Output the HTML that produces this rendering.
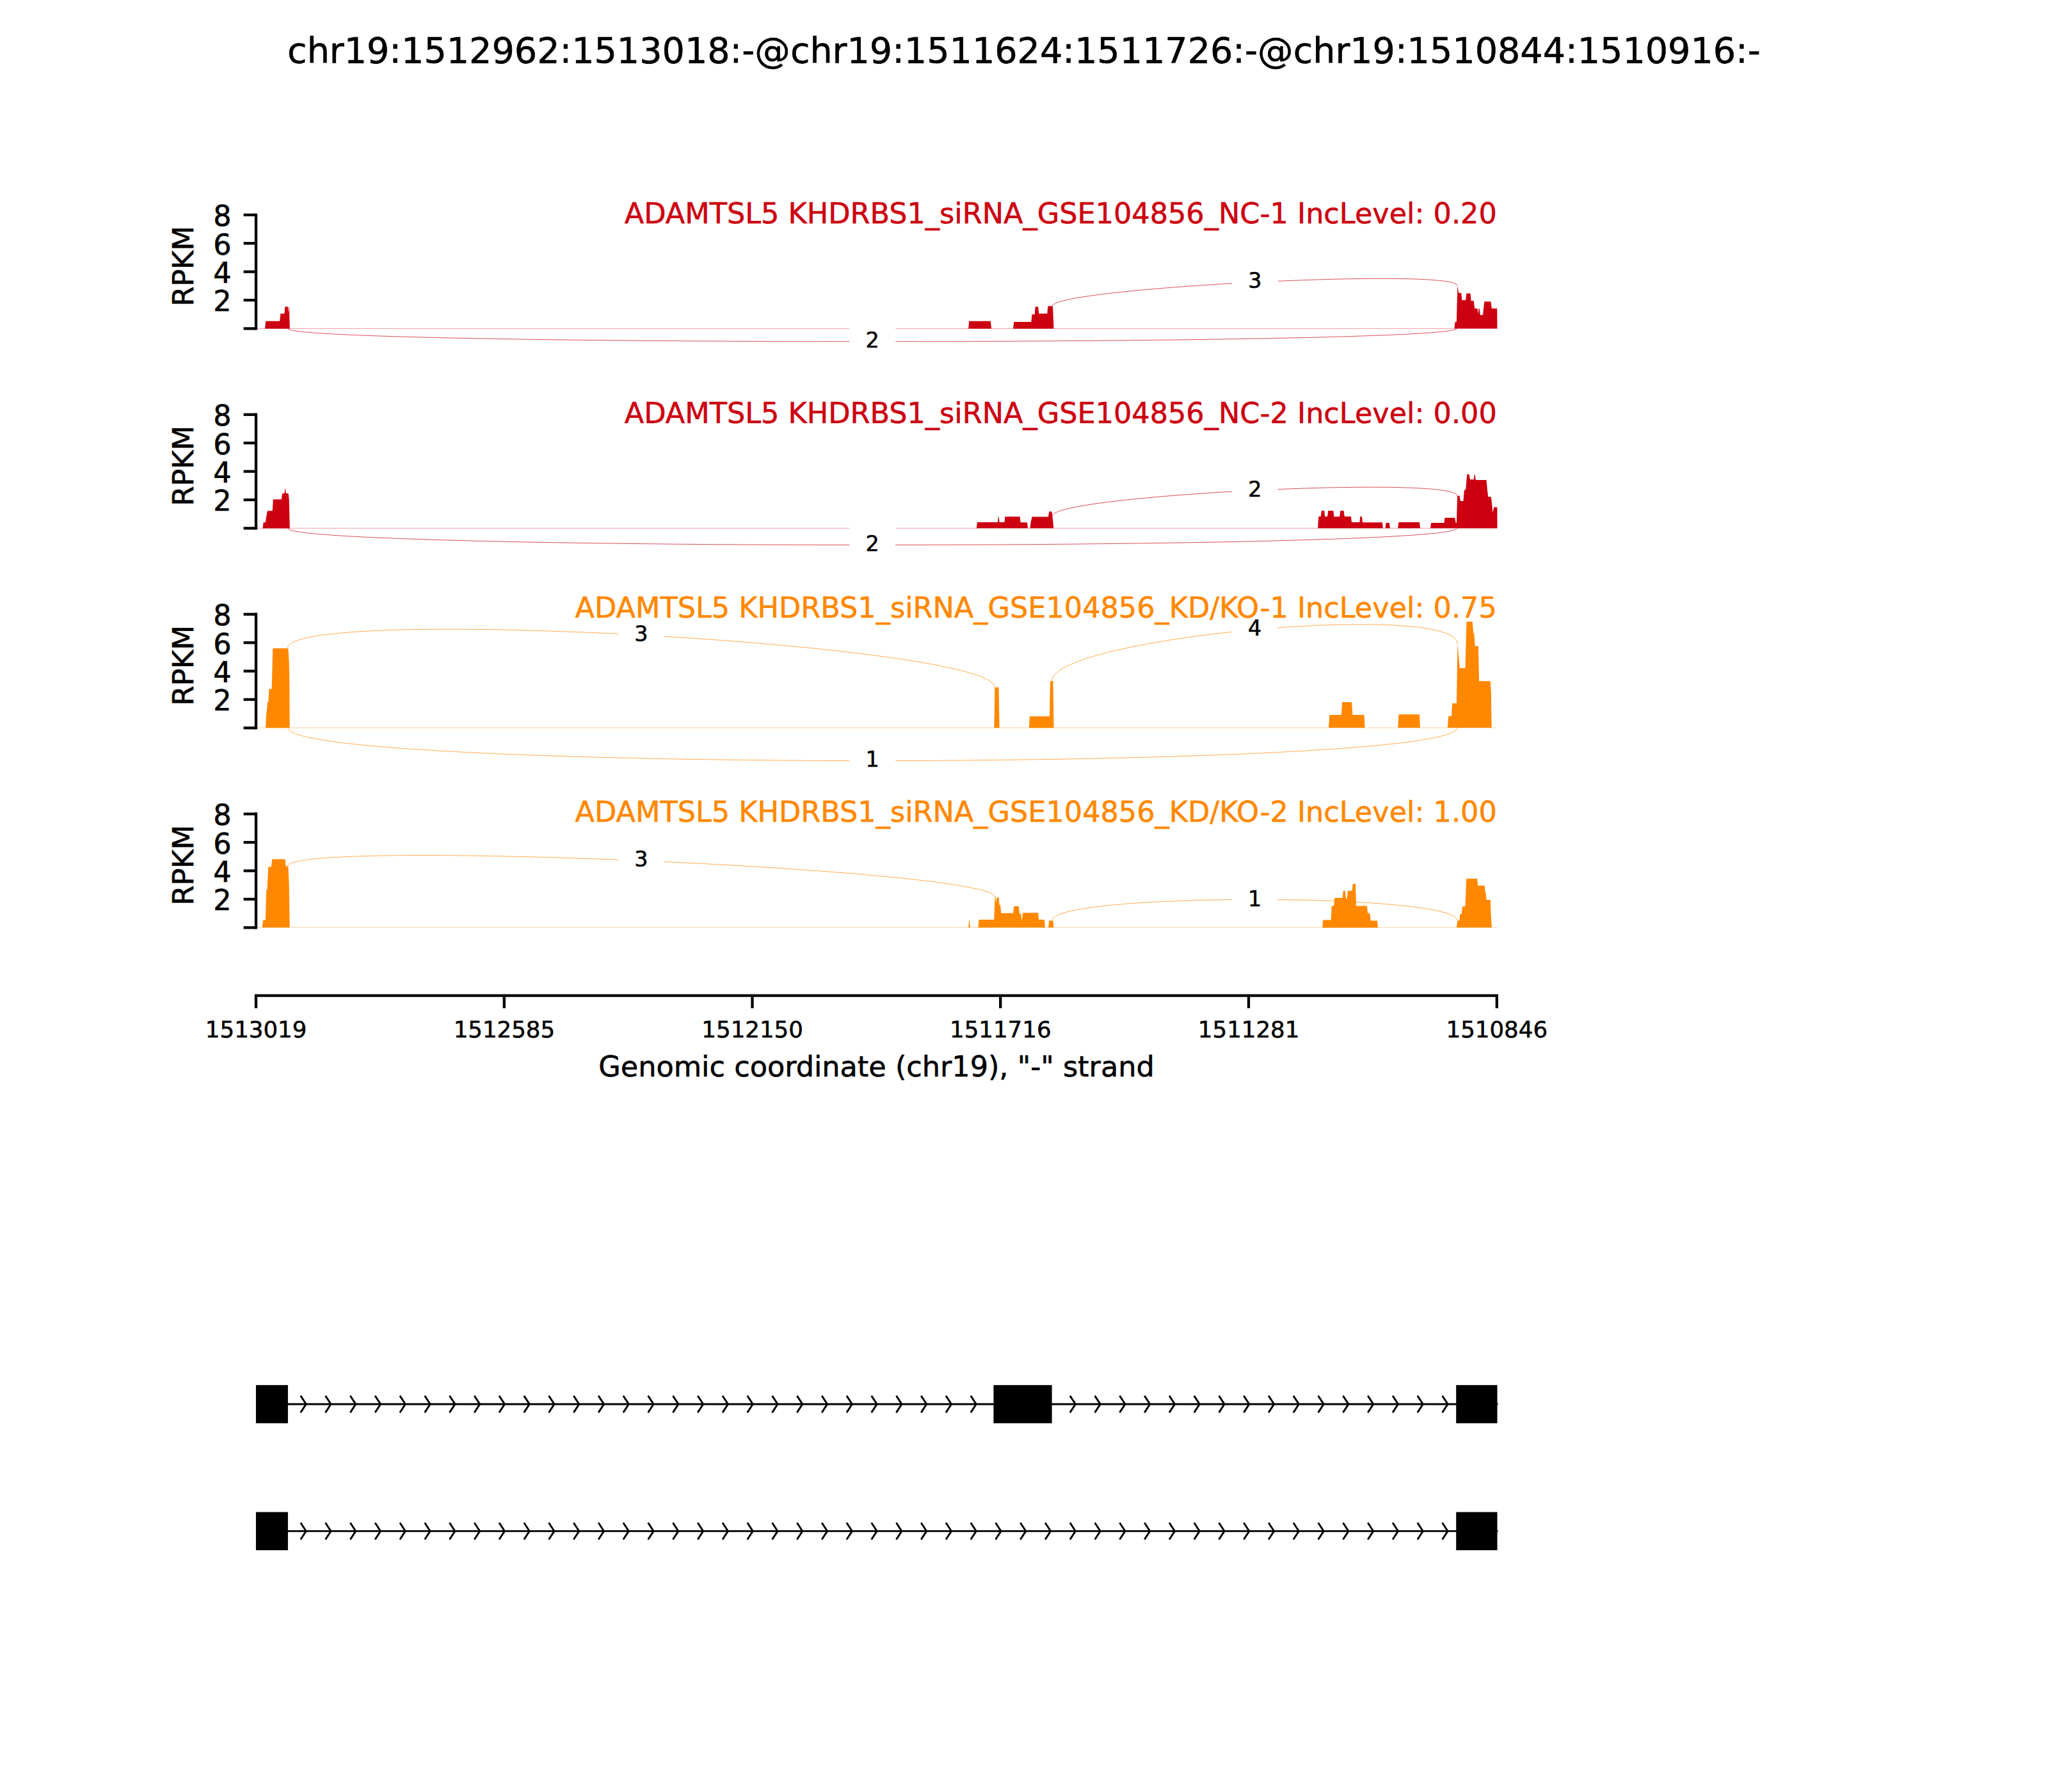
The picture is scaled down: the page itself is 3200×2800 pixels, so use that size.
<!DOCTYPE html>
<html lang="en"><head><meta charset="utf-8"><title>Sashimi plot</title>
<style>html,body{margin:0;padding:0;background:#fff}body{width:3200px;height:2800px;overflow:hidden}svg{display:block}text{font-family:"DejaVu Sans", "Liberation Sans", sans-serif;stroke-width:0.6px;stroke-linejoin:round}.t8{font-size:44.55px}.t6{font-size:33.33px}.tx{font-size:35.6px}.tt{font-size:55.56px}</style></head><body>
<svg width="3200" height="2800" viewBox="0 0 3200 2800">
<rect width="3200" height="2800" fill="#fff"/>
<text class="tt" stroke="#000" x="1600" y="98.4" text-anchor="middle">chr19:1512962:1513018:-@chr19:1511624:1511726:-@chr19:1510844:1510916:-</text>
<g>
<path d="M1644.5,478.3 C1644.5,449.7 2277.3,417.9 2277.3,446.5" fill="none" stroke="#CC0011" stroke-width="0.7"/>
<path d="M449.8,513.4 C449.8,540.6 2276.5,540.4 2276.5,513.2" fill="none" stroke="#CC0011" stroke-width="0.7"/>
<line x1="402" y1="513.4" x2="2339.5" y2="513.4" stroke="#CC0011" stroke-width="0.7" stroke-opacity="0.55"/>
<polygon points="414.0,513.4 415.2,501.7 437.2,501.7 438.3,489.9 444.4,489.9 445.4,479.3 449.8,479.3 450.6,489.0 451.4,479.3 451.9,479.3 452.8,513.4" fill="#CC0011"/>
<polygon points="1513.2,513.5 1514.2,501.8 1547.9,501.8 1549.0,513.5" fill="#CC0011"/>
<polygon points="1583.0,513.5 1584.3,503.0 1611.3,503.0 1612.5,491.3 1616.7,491.3 1617.7,479.3 1622.1,479.3 1623.3,490.0 1636.3,490.0 1637.4,478.3 1645.0,478.3 1646.5,513.5" fill="#CC0011"/>
<polygon points="2272.4,513.2 2273.6,503.0 2275.9,503.0 2277.3,446.5 2279.1,457.7 2283.2,457.7 2284.3,469.0 2290.2,469.0 2291.3,458.6 2297.6,458.6 2298.6,470.1 2302.7,470.1 2304.1,481.9 2308.4,481.9 2309.8,491.0 2310.3,481.9 2311.5,481.9 2313.0,492.2 2317.0,492.2 2319.3,471.3 2329.5,471.3 2330.8,481.9 2339.2,481.9 2339.4,513.2" fill="#CC0011"/>
<rect x="1924.9" y="399.1" width="72" height="78" fill="#fff"/>
<text class="t6" stroke="#000" x="1960.9" y="450.3" text-anchor="middle">3</text>
<rect x="1327.2" y="491.9" width="72" height="78" fill="#fff"/>
<text class="t6" stroke="#000" x="1363.2" y="543.1" text-anchor="middle">2</text>
<path d="M400,333.7 V515.5" stroke="#000" stroke-width="4.3" fill="none"/>
<line x1="380.6" x2="400" y1="335.8" y2="335.8" stroke="#000" stroke-width="4.3"/>
<text class="t8" stroke="#000" x="361.5" y="353.2" text-anchor="end">8</text>
<line x1="380.6" x2="400" y1="380.2" y2="380.2" stroke="#000" stroke-width="4.3"/>
<text class="t8" stroke="#000" x="361.5" y="397.6" text-anchor="end">6</text>
<line x1="380.6" x2="400" y1="424.6" y2="424.6" stroke="#000" stroke-width="4.3"/>
<text class="t8" stroke="#000" x="361.5" y="442.0" text-anchor="end">4</text>
<line x1="380.6" x2="400" y1="469.0" y2="469.0" stroke="#000" stroke-width="4.3"/>
<text class="t8" stroke="#000" x="361.5" y="486.4" text-anchor="end">2</text>
<line x1="380.6" x2="400" y1="513.4" y2="513.4" stroke="#000" stroke-width="4.3"/>
<text class="t8" stroke="#000" transform="translate(301.7,415.8) rotate(-90)" text-anchor="middle">RPKM</text>
<text class="t8" x="2338.8" y="348.6" text-anchor="end" fill="#CC0011" stroke="#CC0011">ADAMTSL5 KHDRBS1_siRNA_GSE104856_NC-1 IncLevel: 0.20</text>
</g>
<g>
<path d="M1644.6,806.0 C1644.6,773.7 2277.1,742.5 2277.1,774.8" fill="none" stroke="#CC0011" stroke-width="0.7"/>
<path d="M449.8,825.3 C449.8,860.3 2276.5,860.3 2276.5,825.3" fill="none" stroke="#CC0011" stroke-width="0.7"/>
<line x1="402" y1="825.3" x2="2339.5" y2="825.3" stroke="#CC0011" stroke-width="0.7" stroke-opacity="0.55"/>
<polygon points="410.6,825.4 411.5,816.2 414.8,816.2 416.2,807.0 417.9,798.3 425.7,798.3 426.8,780.2 439.9,780.2 441.1,771.1 444.4,771.1 445.6,762.2 446.9,771.0 450.5,771.1 451.7,780.2 452.8,825.4" fill="#CC0011"/>
<polygon points="1525.9,825.3 1526.8,816.0 1558.9,816.0 1559.9,807.0 1560.6,807.0 1561.5,816.0 1569.4,816.0 1570.5,807.2 1593.6,807.2 1594.7,816.3 1605.0,816.3 1606.1,825.3" fill="#CC0011"/>
<polygon points="1609.4,825.3 1610.6,816.3 1612.5,807.5 1638.0,807.5 1639.3,799.3 1643.4,799.3 1644.6,808.5 1645.5,816.3 1646.3,825.3" fill="#CC0011"/>
<polygon points="2059.1,825.3 2060.3,807.1 2063.8,807.1 2064.8,798.1 2069.1,798.1 2070.1,807.1 2074.2,807.1 2075.3,798.1 2083.4,798.1 2084.4,807.3 2093.1,807.3 2094.3,798.1 2099.6,798.1 2100.8,807.1 2110.9,807.1 2112.0,816.1 2124.4,816.1 2125.4,807.1 2127.9,807.1 2129.1,816.2 2159.9,816.2 2160.9,825.3" fill="#CC0011"/>
<polygon points="2164.6,825.3 2165.6,817.1 2170.9,817.1 2171.9,825.3" fill="#CC0011"/>
<polygon points="2184.2,825.3 2185.4,816.0 2218.0,816.0 2219.0,825.3" fill="#CC0011"/>
<polygon points="2235.0,825.3 2236.2,817.0 2256.4,817.0 2257.6,809.0 2273.4,809.0 2274.6,816.7 2275.9,817.0 2277.1,774.8 2280.4,774.4 2281.9,783.1 2286.5,783.1 2287.9,765.5 2290.2,765.2 2292.2,741.2 2295.6,741.2 2297.0,749.2 2302.7,749.2 2303.9,741.2 2304.7,741.2 2305.8,749.9 2322.5,750.0 2324.0,766.5 2325.3,776.3 2329.7,776.3 2331.1,786.4 2332.3,800.5 2334.4,792.6 2339.4,792.6 2339.5,825.3" fill="#CC0011"/>
<rect x="1924.8" y="724.4" width="72" height="78" fill="#fff"/>
<text class="t6" stroke="#000" x="1960.8" y="775.6" text-anchor="middle">2</text>
<rect x="1327.2" y="809.8" width="72" height="78" fill="#fff"/>
<text class="t6" stroke="#000" x="1363.2" y="861.0" text-anchor="middle">2</text>
<path d="M400,645.6 V827.4" stroke="#000" stroke-width="4.3" fill="none"/>
<line x1="380.6" x2="400" y1="647.8" y2="647.8" stroke="#000" stroke-width="4.3"/>
<text class="t8" stroke="#000" x="361.5" y="665.2" text-anchor="end">8</text>
<line x1="380.6" x2="400" y1="692.2" y2="692.2" stroke="#000" stroke-width="4.3"/>
<text class="t8" stroke="#000" x="361.5" y="709.6" text-anchor="end">6</text>
<line x1="380.6" x2="400" y1="736.6" y2="736.6" stroke="#000" stroke-width="4.3"/>
<text class="t8" stroke="#000" x="361.5" y="754.0" text-anchor="end">4</text>
<line x1="380.6" x2="400" y1="781.0" y2="781.0" stroke="#000" stroke-width="4.3"/>
<text class="t8" stroke="#000" x="361.5" y="798.4" text-anchor="end">2</text>
<line x1="380.6" x2="400" y1="825.4" y2="825.4" stroke="#000" stroke-width="4.3"/>
<text class="t8" stroke="#000" transform="translate(301.7,727.8) rotate(-90)" text-anchor="middle">RPKM</text>
<text class="t8" x="2338.8" y="660.6" text-anchor="end" fill="#CC0011" stroke="#CC0011">ADAMTSL5 KHDRBS1_siRNA_GSE104856_NC-2 IncLevel: 0.00</text>
</g>
<g>
<path d="M449.5,1013.1 C449.5,944.8 1554.0,1005.7 1554.0,1074.0" fill="none" stroke="#FF8800" stroke-width="0.7"/>
<path d="M1643.5,1064.2 C1643.5,995.4 2277.4,937.8 2277.4,1006.6" fill="none" stroke="#FF8800" stroke-width="0.7"/>
<path d="M449.8,1137.2 C449.8,1205.8 2276.5,1205.7 2276.5,1137.1" fill="none" stroke="#FF8800" stroke-width="0.7"/>
<line x1="402" y1="1137.2" x2="2339.5" y2="1137.2" stroke="#FF8800" stroke-width="0.7" stroke-opacity="0.55"/>
<polygon points="415.1,1137.2 416.1,1116.8 418.2,1096.7 419.5,1096.5 420.4,1076.4 424.6,1076.4 426.2,1013.1 450.3,1013.1 451.6,1033.8 452.3,1067.3 452.7,1137.2" fill="#FF8800"/>
<polygon points="1553.4,1137.3 1554.4,1074.1 1560.5,1074.1 1561.6,1137.3" fill="#FF8800"/>
<polygon points="1607.8,1137.3 1608.9,1119.3 1640.0,1119.3 1640.9,1064.2 1645.5,1064.2 1646.5,1137.3" fill="#FF8800"/>
<polygon points="2076.0,1137.1 2077.4,1117.0 2095.8,1117.0 2097.1,1096.9 2112.1,1096.9 2113.4,1117.0 2131.5,1117.0 2132.6,1137.1" fill="#FF8800"/>
<polygon points="2184.2,1137.1 2185.5,1116.3 2217.9,1116.3 2219.0,1137.1" fill="#FF8800"/>
<polygon points="2261.8,1137.1 2263.2,1119.1 2267.9,1119.1 2269.3,1099.0 2275.9,1099.0 2277.4,1006.6 2280.9,1044.1 2289.4,1044.1 2291.5,971.2 2300.7,971.2 2302.1,989.3 2303.3,989.3 2304.7,1009.4 2309.9,1009.4 2311.1,1064.2 2328.8,1064.2 2329.8,1081.6 2330.7,1137.1" fill="#FF8800"/>
<rect x="965.8" y="950.5" width="72" height="78" fill="#fff"/>
<text class="t6" stroke="#000" x="1001.8" y="1001.7" text-anchor="middle">3</text>
<rect x="1924.5" y="942.0" width="72" height="78" fill="#fff"/>
<text class="t6" stroke="#000" x="1960.5" y="993.2" text-anchor="middle">4</text>
<rect x="1327.2" y="1146.8" width="72" height="78" fill="#fff"/>
<text class="t6" stroke="#000" x="1363.2" y="1198.0" text-anchor="middle">1</text>
<path d="M400,957.6 V1139.4" stroke="#000" stroke-width="4.3" fill="none"/>
<line x1="380.6" x2="400" y1="959.8" y2="959.8" stroke="#000" stroke-width="4.3"/>
<text class="t8" stroke="#000" x="361.5" y="977.2" text-anchor="end">8</text>
<line x1="380.6" x2="400" y1="1004.2" y2="1004.2" stroke="#000" stroke-width="4.3"/>
<text class="t8" stroke="#000" x="361.5" y="1021.6" text-anchor="end">6</text>
<line x1="380.6" x2="400" y1="1048.6" y2="1048.6" stroke="#000" stroke-width="4.3"/>
<text class="t8" stroke="#000" x="361.5" y="1066.0" text-anchor="end">4</text>
<line x1="380.6" x2="400" y1="1093.0" y2="1093.0" stroke="#000" stroke-width="4.3"/>
<text class="t8" stroke="#000" x="361.5" y="1110.4" text-anchor="end">2</text>
<line x1="380.6" x2="400" y1="1137.4" y2="1137.4" stroke="#000" stroke-width="4.3"/>
<text class="t8" stroke="#000" transform="translate(301.7,1039.8) rotate(-90)" text-anchor="middle">RPKM</text>
<text class="t8" x="2338.8" y="965.4" text-anchor="end" fill="#FF8800" stroke="#FF8800">ADAMTSL5 KHDRBS1_siRNA_GSE104856_KD/KO-1 IncLevel: 0.75</text>
</g>
<g>
<path d="M449.3,1353.8 C449.3,1310.1 1554.6,1357.8 1554.6,1401.5" fill="none" stroke="#FF8800" stroke-width="0.7"/>
<path d="M1643.8,1438.4 C1643.8,1394.4 2277.3,1394.5 2277.3,1438.5" fill="none" stroke="#FF8800" stroke-width="0.7"/>
<line x1="402" y1="1449.2" x2="2339.5" y2="1449.2" stroke="#FF8800" stroke-width="0.7" stroke-opacity="0.55"/>
<polygon points="409.7,1449.2 411.1,1437.5 414.8,1437.5 416.2,1390.0 417.5,1389.7 419.2,1354.5 423.8,1354.5 425.3,1342.4 445.6,1342.4 446.7,1353.8 450.3,1353.8 451.6,1380.6 452.7,1449.2" fill="#FF8800"/>
<polygon points="1513.1,1449.2 1514.4,1437.4 1515.0,1437.4 1515.9,1449.2" fill="#FF8800"/>
<polygon points="1528.4,1449.2 1529.6,1437.1 1553.3,1437.1 1554.6,1401.5 1555.5,1401.5 1556.5,1410.3 1557.5,1402.2 1560.6,1402.2 1561.6,1414.3 1563.1,1414.5 1564.3,1426.8 1583.0,1426.8 1584.2,1416.0 1591.8,1416.0 1593.0,1427.9 1595.3,1427.9 1596.5,1438.4 1598.3,1426.3 1622.1,1426.3 1623.3,1437.1 1631.9,1437.1 1633.0,1449.2" fill="#FF8800"/>
<polygon points="1638.1,1449.2 1639.2,1438.4 1645.4,1438.4 1646.4,1449.2" fill="#FF8800"/>
<polygon points="2066.2,1449.4 2067.3,1437.4 2079.7,1437.4 2080.8,1415.6 2084.1,1415.4 2085.3,1403.1 2097.7,1403.1 2098.8,1392.0 2101.7,1392.0 2103.1,1403.9 2104.7,1403.9 2105.9,1392.0 2112.7,1391.7 2113.8,1381.0 2118.1,1381.0 2118.9,1415.6 2135.9,1415.6 2137.1,1426.9 2140.4,1426.9 2141.6,1438.4 2152.0,1438.4 2152.9,1449.4" fill="#FF8800"/>
<polygon points="2276.0,1449.2 2277.3,1438.5 2280.4,1438.5 2281.4,1428.0 2283.8,1428.0 2285.1,1416.3 2289.4,1416.3 2291.2,1373.1 2308.3,1373.1 2309.1,1383.7 2319.7,1383.7 2320.8,1394.4 2321.6,1395.9 2322.5,1406.0 2328.8,1406.0 2329.5,1427.0 2330.8,1449.2" fill="#FF8800"/>
<rect x="965.9" y="1303.1" width="72" height="78" fill="#fff"/>
<text class="t6" stroke="#000" x="1001.9" y="1354.3" text-anchor="middle">3</text>
<rect x="1924.6" y="1364.6" width="72" height="78" fill="#fff"/>
<text class="t6" stroke="#000" x="1960.6" y="1415.8" text-anchor="middle">1</text>
<path d="M400,1269.6 V1451.4" stroke="#000" stroke-width="4.3" fill="none"/>
<line x1="380.6" x2="400" y1="1271.8" y2="1271.8" stroke="#000" stroke-width="4.3"/>
<text class="t8" stroke="#000" x="361.5" y="1289.2" text-anchor="end">8</text>
<line x1="380.6" x2="400" y1="1316.2" y2="1316.2" stroke="#000" stroke-width="4.3"/>
<text class="t8" stroke="#000" x="361.5" y="1333.6" text-anchor="end">6</text>
<line x1="380.6" x2="400" y1="1360.6" y2="1360.6" stroke="#000" stroke-width="4.3"/>
<text class="t8" stroke="#000" x="361.5" y="1378.0" text-anchor="end">4</text>
<line x1="380.6" x2="400" y1="1405.0" y2="1405.0" stroke="#000" stroke-width="4.3"/>
<text class="t8" stroke="#000" x="361.5" y="1422.4" text-anchor="end">2</text>
<line x1="380.6" x2="400" y1="1449.4" y2="1449.4" stroke="#000" stroke-width="4.3"/>
<text class="t8" stroke="#000" transform="translate(301.7,1351.8) rotate(-90)" text-anchor="middle">RPKM</text>
<text class="t8" x="2338.8" y="1283.5" text-anchor="end" fill="#FF8800" stroke="#FF8800">ADAMTSL5 KHDRBS1_siRNA_GSE104856_KD/KO-2 IncLevel: 1.00</text>
</g>
<g>
<line x1="397.9" x2="2340.9" y1="1555.6" y2="1555.6" stroke="#000" stroke-width="4.3"/>
<line x1="400.0" x2="400.0" y1="1555.6" y2="1575.3" stroke="#000" stroke-width="4.3"/>
<text class="tx" stroke="#000" x="400.1" y="1620.6" text-anchor="middle">1513019</text>
<line x1="787.8" x2="787.8" y1="1555.6" y2="1575.3" stroke="#000" stroke-width="4.3"/>
<text class="tx" stroke="#000" x="787.9" y="1620.6" text-anchor="middle">1512585</text>
<line x1="1175.5" x2="1175.5" y1="1555.6" y2="1575.3" stroke="#000" stroke-width="4.3"/>
<text class="tx" stroke="#000" x="1175.6" y="1620.6" text-anchor="middle">1512150</text>
<line x1="1563.2" x2="1563.2" y1="1555.6" y2="1575.3" stroke="#000" stroke-width="4.3"/>
<text class="tx" stroke="#000" x="1563.3" y="1620.6" text-anchor="middle">1511716</text>
<line x1="1951.0" x2="1951.0" y1="1555.6" y2="1575.3" stroke="#000" stroke-width="4.3"/>
<text class="tx" stroke="#000" x="1951.1" y="1620.6" text-anchor="middle">1511281</text>
<line x1="2338.8" x2="2338.8" y1="1555.6" y2="1575.3" stroke="#000" stroke-width="4.3"/>
<text class="tx" stroke="#000" x="2338.8" y="1620.6" text-anchor="middle">1510846</text>
<text class="t8" stroke="#000" x="1369.5" y="1681.7" text-anchor="middle">Genomic coordinate (chr19), &quot;-&quot; strand</text>
</g>
<g>
<line x1="402" x2="2339" y1="2194.0" y2="2194.0" stroke="#000" stroke-width="2.9" stroke-linecap="square"/>
<path d="M431.72,2182.1 L439.48,2194.0 L431.72,2205.9 M470.50,2182.1 L478.26,2194.0 L470.50,2205.9 M509.28,2182.1 L517.04,2194.0 L509.28,2205.9 M548.06,2182.1 L555.82,2194.0 L548.06,2205.9 M586.84,2182.1 L594.60,2194.0 L586.84,2205.9 M625.62,2182.1 L633.38,2194.0 L625.62,2205.9 M664.40,2182.1 L672.16,2194.0 L664.40,2205.9 M703.18,2182.1 L710.94,2194.0 L703.18,2205.9 M741.96,2182.1 L749.72,2194.0 L741.96,2205.9 M780.74,2182.1 L788.50,2194.0 L780.74,2205.9 M819.52,2182.1 L827.28,2194.0 L819.52,2205.9 M858.30,2182.1 L866.06,2194.0 L858.30,2205.9 M897.08,2182.1 L904.84,2194.0 L897.08,2205.9 M935.86,2182.1 L943.62,2194.0 L935.86,2205.9 M974.64,2182.1 L982.40,2194.0 L974.64,2205.9 M1013.42,2182.1 L1021.18,2194.0 L1013.42,2205.9 M1052.20,2182.1 L1059.96,2194.0 L1052.20,2205.9 M1090.98,2182.1 L1098.74,2194.0 L1090.98,2205.9 M1129.76,2182.1 L1137.52,2194.0 L1129.76,2205.9 M1168.54,2182.1 L1176.30,2194.0 L1168.54,2205.9 M1207.32,2182.1 L1215.08,2194.0 L1207.32,2205.9 M1246.10,2182.1 L1253.86,2194.0 L1246.10,2205.9 M1284.88,2182.1 L1292.64,2194.0 L1284.88,2205.9 M1323.66,2182.1 L1331.42,2194.0 L1323.66,2205.9 M1362.44,2182.1 L1370.20,2194.0 L1362.44,2205.9 M1401.22,2182.1 L1408.98,2194.0 L1401.22,2205.9 M1440.00,2182.1 L1447.76,2194.0 L1440.00,2205.9 M1478.78,2182.1 L1486.54,2194.0 L1478.78,2205.9 M1517.56,2182.1 L1525.32,2194.0 L1517.56,2205.9 M1556.34,2182.1 L1564.10,2194.0 L1556.34,2205.9 M1595.12,2182.1 L1602.88,2194.0 L1595.12,2205.9 M1633.90,2182.1 L1641.66,2194.0 L1633.90,2205.9 M1672.68,2182.1 L1680.44,2194.0 L1672.68,2205.9 M1711.46,2182.1 L1719.22,2194.0 L1711.46,2205.9 M1750.24,2182.1 L1758.00,2194.0 L1750.24,2205.9 M1789.02,2182.1 L1796.78,2194.0 L1789.02,2205.9 M1827.80,2182.1 L1835.56,2194.0 L1827.80,2205.9 M1866.58,2182.1 L1874.34,2194.0 L1866.58,2205.9 M1905.36,2182.1 L1913.12,2194.0 L1905.36,2205.9 M1944.14,2182.1 L1951.90,2194.0 L1944.14,2205.9 M1982.92,2182.1 L1990.68,2194.0 L1982.92,2205.9 M2021.70,2182.1 L2029.46,2194.0 L2021.70,2205.9 M2060.48,2182.1 L2068.24,2194.0 L2060.48,2205.9 M2099.26,2182.1 L2107.02,2194.0 L2099.26,2205.9 M2138.04,2182.1 L2145.80,2194.0 L2138.04,2205.9 M2176.82,2182.1 L2184.58,2194.0 L2176.82,2205.9 M2215.60,2182.1 L2223.36,2194.0 L2215.60,2205.9 M2254.38,2182.1 L2262.14,2194.0 L2254.38,2205.9 M2293.16,2182.1 L2300.92,2194.0 L2293.16,2205.9" fill="none" stroke="#000" stroke-width="2.9" stroke-linecap="square" stroke-linejoin="miter" stroke-miterlimit="10"/>
<rect x="399.9" y="2164.2" width="50.0" height="59.6" fill="#000"/>
<rect x="1552.4" y="2164.2" width="91.2" height="59.6" fill="#000"/>
<rect x="2275.2" y="2164.2" width="64.3" height="59.6" fill="#000"/>
</g>
<g>
<line x1="402" x2="2339" y1="2392.4" y2="2392.4" stroke="#000" stroke-width="2.9" stroke-linecap="square"/>
<path d="M431.72,2380.5 L439.48,2392.4 L431.72,2404.3 M470.50,2380.5 L478.26,2392.4 L470.50,2404.3 M509.28,2380.5 L517.04,2392.4 L509.28,2404.3 M548.06,2380.5 L555.82,2392.4 L548.06,2404.3 M586.84,2380.5 L594.60,2392.4 L586.84,2404.3 M625.62,2380.5 L633.38,2392.4 L625.62,2404.3 M664.40,2380.5 L672.16,2392.4 L664.40,2404.3 M703.18,2380.5 L710.94,2392.4 L703.18,2404.3 M741.96,2380.5 L749.72,2392.4 L741.96,2404.3 M780.74,2380.5 L788.50,2392.4 L780.74,2404.3 M819.52,2380.5 L827.28,2392.4 L819.52,2404.3 M858.30,2380.5 L866.06,2392.4 L858.30,2404.3 M897.08,2380.5 L904.84,2392.4 L897.08,2404.3 M935.86,2380.5 L943.62,2392.4 L935.86,2404.3 M974.64,2380.5 L982.40,2392.4 L974.64,2404.3 M1013.42,2380.5 L1021.18,2392.4 L1013.42,2404.3 M1052.20,2380.5 L1059.96,2392.4 L1052.20,2404.3 M1090.98,2380.5 L1098.74,2392.4 L1090.98,2404.3 M1129.76,2380.5 L1137.52,2392.4 L1129.76,2404.3 M1168.54,2380.5 L1176.30,2392.4 L1168.54,2404.3 M1207.32,2380.5 L1215.08,2392.4 L1207.32,2404.3 M1246.10,2380.5 L1253.86,2392.4 L1246.10,2404.3 M1284.88,2380.5 L1292.64,2392.4 L1284.88,2404.3 M1323.66,2380.5 L1331.42,2392.4 L1323.66,2404.3 M1362.44,2380.5 L1370.20,2392.4 L1362.44,2404.3 M1401.22,2380.5 L1408.98,2392.4 L1401.22,2404.3 M1440.00,2380.5 L1447.76,2392.4 L1440.00,2404.3 M1478.78,2380.5 L1486.54,2392.4 L1478.78,2404.3 M1517.56,2380.5 L1525.32,2392.4 L1517.56,2404.3 M1556.34,2380.5 L1564.10,2392.4 L1556.34,2404.3 M1595.12,2380.5 L1602.88,2392.4 L1595.12,2404.3 M1633.90,2380.5 L1641.66,2392.4 L1633.90,2404.3 M1672.68,2380.5 L1680.44,2392.4 L1672.68,2404.3 M1711.46,2380.5 L1719.22,2392.4 L1711.46,2404.3 M1750.24,2380.5 L1758.00,2392.4 L1750.24,2404.3 M1789.02,2380.5 L1796.78,2392.4 L1789.02,2404.3 M1827.80,2380.5 L1835.56,2392.4 L1827.80,2404.3 M1866.58,2380.5 L1874.34,2392.4 L1866.58,2404.3 M1905.36,2380.5 L1913.12,2392.4 L1905.36,2404.3 M1944.14,2380.5 L1951.90,2392.4 L1944.14,2404.3 M1982.92,2380.5 L1990.68,2392.4 L1982.92,2404.3 M2021.70,2380.5 L2029.46,2392.4 L2021.70,2404.3 M2060.48,2380.5 L2068.24,2392.4 L2060.48,2404.3 M2099.26,2380.5 L2107.02,2392.4 L2099.26,2404.3 M2138.04,2380.5 L2145.80,2392.4 L2138.04,2404.3 M2176.82,2380.5 L2184.58,2392.4 L2176.82,2404.3 M2215.60,2380.5 L2223.36,2392.4 L2215.60,2404.3 M2254.38,2380.5 L2262.14,2392.4 L2254.38,2404.3 M2293.16,2380.5 L2300.92,2392.4 L2293.16,2404.3" fill="none" stroke="#000" stroke-width="2.9" stroke-linecap="square" stroke-linejoin="miter" stroke-miterlimit="10"/>
<rect x="399.9" y="2362.6" width="50.0" height="59.6" fill="#000"/>
<rect x="2275.2" y="2362.6" width="64.3" height="59.6" fill="#000"/>
</g>
</svg></body></html>
